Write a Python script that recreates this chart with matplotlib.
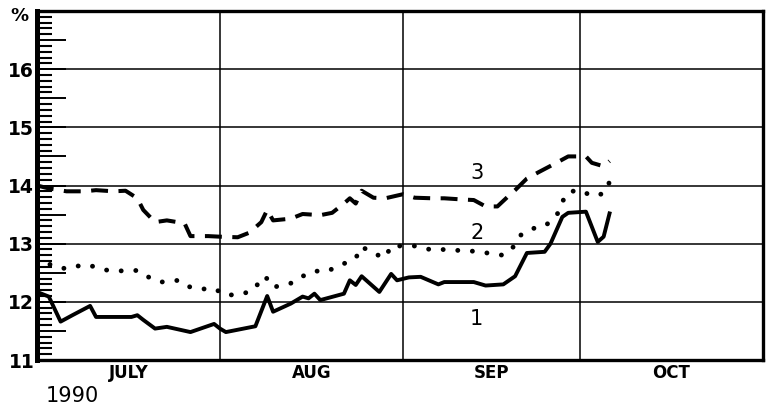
import numpy as np
import matplotlib.pyplot as plt
from matplotlib.ticker import MultipleLocator, FuncFormatter

# ----------------------------------------------------------------------
#  Data: days counted from 1 July 1990, rates in percent
# ----------------------------------------------------------------------

days_1 = [0, 2, 4, 6, 9, 10, 16, 17, 18, 20, 22, 26, 30, 31, 32, 37, 39, 40,
          43, 45, 46, 47, 48, 52, 53, 54, 55, 58, 60, 61, 63, 65, 68, 69, 74,
          76, 79, 81, 83, 86, 87, 89, 90, 93, 95, 96, 97]
rate_1 = [12.17, 12.09, 11.66, 11.77, 11.93, 11.74, 11.74, 11.77, 11.69,
          11.54, 11.57, 11.48, 11.62, 11.54, 11.48, 11.58, 12.10, 11.83,
          11.97, 12.09, 12.06, 12.14, 12.03, 12.14, 12.37, 12.29, 12.44,
          12.17, 12.48, 12.37, 12.42, 12.43, 12.30, 12.34, 12.34, 12.28,
          12.30, 12.44, 12.84, 12.86, 13.00, 13.46, 13.53, 13.55, 13.03,
          13.12, 13.52]

days_2 = [0, 3, 5, 8, 10, 12, 15, 17, 19, 21, 24, 26, 28, 30, 32, 35, 37, 38,
          39, 40, 43, 45, 47, 49, 51, 54, 55, 57, 59, 60, 62, 64, 67, 69, 72,
          74, 77, 79, 81, 82, 84, 86, 88, 89, 90, 92, 94, 96, 97]
rate_2 = [12.76, 12.60, 12.57, 12.64, 12.60, 12.54, 12.53, 12.54, 12.42,
          12.34, 12.37, 12.25, 12.22, 12.23, 12.11, 12.14, 12.23, 12.43,
          12.40, 12.25, 12.32, 12.44, 12.53, 12.52, 12.61, 12.75, 12.95,
          12.83, 12.76, 12.96, 12.96, 12.96, 12.89, 12.90, 12.88, 12.87,
          12.83, 12.80, 12.97, 13.15, 13.26, 13.30, 13.47, 13.72, 13.89,
          13.92, 13.82, 13.86, 14.06]

days_3 = [0, 2, 5, 8, 10, 13, 15, 17, 18, 20, 22, 25, 26, 29, 31, 34, 36, 38,
          39, 40, 43, 45, 48, 50, 52, 53, 54, 55, 57, 59, 62, 64, 67, 69, 72,
          74, 76, 78, 80, 81, 83, 85, 88, 90, 93, 94, 96, 97]
rate_3 = [14.00, 13.95, 13.90, 13.90, 13.92, 13.90, 13.91, 13.78, 13.58,
          13.37, 13.40, 13.35, 13.13, 13.13, 13.12, 13.11, 13.19, 13.37,
          13.58, 13.40, 13.43, 13.51, 13.49, 13.53, 13.69, 13.78, 13.69,
          13.91, 13.79, 13.78, 13.85, 13.79, 13.78, 13.78, 13.76, 13.75,
          13.64, 13.64, 13.83, 13.92, 14.12, 14.23, 14.39, 14.50, 14.50,
          14.39, 14.33, 14.42]

month_names = ['JULY', 'AUG', 'SEP', 'OCT']
month_edges = [0, 31, 62, 92, 123]
grid_levels = [12, 13, 14, 15, 16]

# curve numbers: (text, day, rate)
curve_tags = [('1', 74.5, 11.71), ('2', 74.5, 13.18), ('3', 74.5, 14.21)]

# ----------------------------------------------------------------------
#  Plot
# ----------------------------------------------------------------------

fig = plt.figure(figsize=(7.67, 4.11), dpi=100)
ax = fig.add_axes([37 / 767, 1 - 360 / 411, 726 / 767, 349 / 411])

ax.set_xlim(month_edges[0], month_edges[-1])
ax.set_ylim(11, 17)

for lvl in grid_levels:
    ax.axhline(lvl, color='black', lw=1.1, zorder=1)
for edge in month_edges[1:-1]:
    ax.axvline(edge, color='black', lw=1.1, zorder=1)

ax.plot(days_1, rate_1, color='black', lw=2.8, solid_joinstyle='round',
        zorder=3)
ax.plot(days_2, rate_2, color='black', lw=3.5, linestyle=(0, (0.01, 3.0)),
        dash_capstyle='round', zorder=3)
ax.plot(days_3, rate_3, color='black', lw=2.9, linestyle=(0, (4.2, 2.6)),
        zorder=3)

for txt, d, r in curve_tags:
    ax.text(d, r, txt, ha='center', va='center', fontsize=15, color='black')

# frame
for side in ['top', 'right', 'bottom']:
    ax.spines[side].set_linewidth(2.4)
ax.spines['left'].set_linewidth(3.6)

# y axis: long ticks every 0.5, short ticks every 0.1, labels on integers
ax.yaxis.set_major_locator(MultipleLocator(0.5))
ax.yaxis.set_minor_locator(MultipleLocator(0.1))
ax.yaxis.set_major_formatter(FuncFormatter(
    lambda v, pos: f'{v:.0f}' if abs(v - round(v)) < 1e-6 and v < 16.5 else ''))
ax.tick_params(axis='y', which='major', direction='in', length=21, width=1.4,
               pad=2, labelsize=13.5)
ax.tick_params(axis='y', which='minor', direction='in', length=11, width=1.5)
for lab in ax.get_yticklabels():
    lab.set_fontweight('bold')

# x axis: month names centred in each month
centres = [(a + b) / 2 for a, b in zip(month_edges[:-1], month_edges[1:])]
ax.set_xticks(centres)
ax.set_xticklabels(month_names, fontsize=12, fontweight='bold')
ax.tick_params(axis='x', length=0, pad=3)

fig.text(19 / 767, 1 - 16 / 411, '%', ha='center', va='center',
         fontsize=13, fontweight='bold')
fig.text(72 / 767, 1 - 396 / 411, '1990', ha='center', va='center',
         fontsize=15)

fig.savefig('out.png', dpi=100)
